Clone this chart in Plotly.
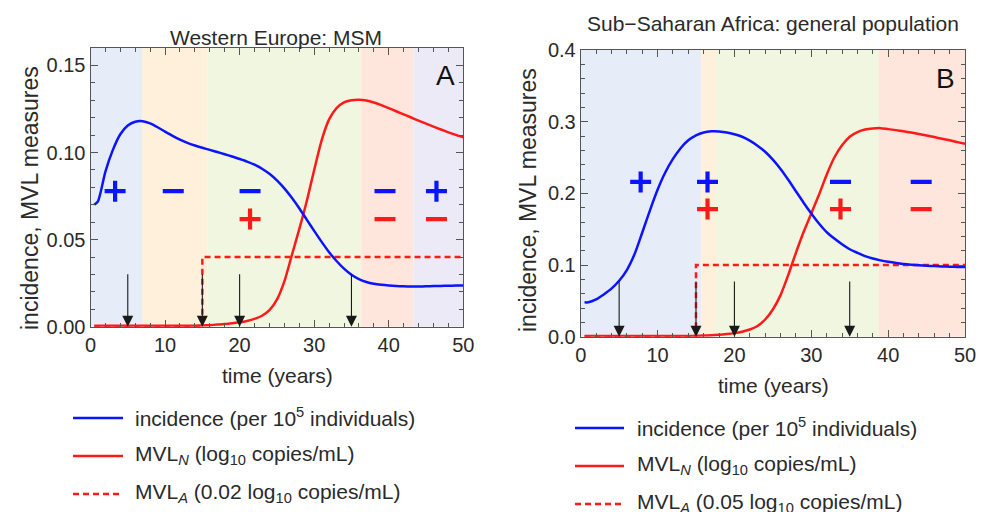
import plotly.graph_objects as go

# ---------------- data ----------------
t = [0.5, 1] + list(range(2, 51))

inc_A = [0.070, 0.072, 0.089, 0.1015, 0.1105, 0.1155, 0.1177, 0.118, 0.1167, 0.1145, 0.112,
         0.1096, 0.1074, 0.1055, 0.104, 0.1027, 0.1015, 0.1003, 0.099, 0.0977, 0.0963,
         0.0948, 0.093, 0.0907, 0.0878, 0.084, 0.0794, 0.074, 0.068, 0.0615, 0.055,
         0.0487, 0.0428, 0.0377, 0.0333, 0.0298, 0.0273, 0.0257, 0.0247, 0.0241, 0.0237,
         0.0234, 0.0232, 0.0231, 0.0231, 0.0232, 0.0233, 0.0234, 0.0235, 0.0236, 0.0237]
mvlN_A = [0.0005] * 12 + [0.0006, 0.0006, 0.0006, 0.0007, 0.0009, 0.0012, 0.0015, 0.002, 0.0025,
                          0.0033, 0.0045, 0.0063, 0.0095, 0.0155, 0.026, 0.041, 0.056, 0.072,
                          0.090, 0.107, 0.119, 0.1255, 0.1288, 0.1300, 0.1303, 0.1298, 0.1287,
                          0.1272, 0.1255, 0.1237, 0.1219, 0.1201, 0.1183, 0.1166, 0.1149, 0.1132,
                          0.1116, 0.1101, 0.1087]
mvlA_t_A = [0.5, 15, 15, 50]
mvlA_A = [0.0, 0.0, 0.04, 0.04]

inc_B = [0.048, 0.048, 0.052, 0.059, 0.067, 0.078, 0.093, 0.115, 0.145, 0.176, 0.205, 0.229,
         0.248, 0.263, 0.274, 0.281, 0.285, 0.2865, 0.2863, 0.285, 0.2825, 0.279, 0.2735,
         0.2665, 0.258, 0.247, 0.234, 0.219, 0.203, 0.187, 0.172, 0.158, 0.146, 0.137, 0.129,
         0.122, 0.117, 0.1125, 0.109, 0.1065, 0.1045, 0.103, 0.1015, 0.1005, 0.0997, 0.099,
         0.0985, 0.098, 0.0977, 0.0974, 0.0972]
mvlN_B = [0.001] * 15 + [0.0012, 0.0015, 0.002, 0.0027, 0.0037, 0.005, 0.007, 0.010, 0.015, 0.024,
                         0.038, 0.058, 0.086, 0.117, 0.146, 0.172, 0.198, 0.226, 0.250, 0.267,
                         0.279, 0.2855, 0.289, 0.2905, 0.291, 0.2896, 0.2882, 0.2866, 0.2848,
                         0.2828, 0.2807, 0.2785, 0.2762, 0.274, 0.2715, 0.269]
mvlA_t_B = [0.5, 15, 15, 50]
mvlA_B = [0.0, 0.0, 0.1, 0.1]

# phase boundaries and colours
bounds_A = [0, 6.9, 15.7, 36.3, 43.3, 50]
colors_A = ["#e6ecf8", "#fff0db", "#f0f6e0", "#ffe6dc", "#eceaf6"]
bounds_B = [0, 15.7, 17.6, 38.8, 50]
colors_B = ["#e6ecf8", "#fff0db", "#f0f6e0", "#ffe6dc"]

# sign markers (time, symbol) and row levels
signs_A_blue_t = [3.3, 11.1, 21.4, 39.5, 46.4]
signs_A_blue_s = ["+", "-", "-", "-", "+"]
signs_A_red_t = [21.4, 39.5, 46.4]
signs_A_red_s = ["+", "-", "-"]
signs_A_levels = [0.0778, 0.0618]
signs_B_blue_t = [7.8, 16.5, 33.8, 44.3]
signs_B_blue_s = ["+", "+", "-", "-"]
signs_B_red_t = [16.5, 33.8, 44.3]
signs_B_red_s = ["+", "+", "-"]
signs_B_levels = [0.216, 0.178]

arrow_t = [5, 15, 20, 35]
arrow_top_A = 0.031
arrow_top_B = 0.079

legend_A = ["incidence (per 10<sup>5</sup> individuals)",
            "MVL<sub><i>N</i></sub> (log<sub>10</sub> copies/mL)",
            "MVL<sub><i>A</i></sub> (0.02 log<sub>10</sub> copies/mL)"]
legend_B = ["incidence (per 10<sup>5</sup> individuals)",
            "MVL<sub><i>N</i></sub> (log<sub>10</sub> copies/mL)",
            "MVL<sub><i>A</i></sub> (0.05 log<sub>10</sub> copies/mL)"]

# ---------------- figure ----------------
W, H = 991, 512
FONT = "Liberation Sans, Arial, sans-serif"
BLUE = "#0a14ff"
RED = "#ff1a1a"
TXT = "#2a2a2a"
DASH = "6px,4px"


def px(x):
    return x / W


def py(y):
    return 1 - y / H


fig = go.Figure()

panels = [
    dict(xa="x", ya="y", inc=inc_A, mvlN=mvlN_A, mt=mvlA_t_A, ma=mvlA_A,
         bt=signs_A_blue_t, bs=signs_A_blue_s, rt=signs_A_red_t, rs=signs_A_red_s, lv=signs_A_levels,
         bounds=bounds_A, colors=colors_A, atop=arrow_top_A),
    dict(xa="x2", ya="y2", inc=inc_B, mvlN=mvlN_B, mt=mvlA_t_B, ma=mvlA_B,
         bt=signs_B_blue_t, bs=signs_B_blue_s, rt=signs_B_red_t, rs=signs_B_red_s, lv=signs_B_levels,
         bounds=bounds_B, colors=colors_B, atop=arrow_top_B),
]

shapes = []
annotations = []

for p in panels:
    for i, c in enumerate(p["colors"]):
        shapes.append(dict(type="rect", xref=p["xa"], yref=p["ya"] + " domain",
                           x0=p["bounds"][i], x1=p["bounds"][i + 1], y0=0, y1=1,
                           fillcolor=c, line=dict(width=0), layer="below"))
    fig.add_trace(go.Scatter(x=p["mt"], y=p["ma"], mode="lines", xaxis=p["xa"], yaxis=p["ya"],
                             line=dict(color=RED, width=2.5, dash=DASH), showlegend=False))
    fig.add_trace(go.Scatter(x=t, y=p["mvlN"], mode="lines", xaxis=p["xa"], yaxis=p["ya"],
                             line=dict(color=RED, width=2.5, shape="spline", smoothing=0.7),
                             showlegend=False))
    fig.add_trace(go.Scatter(x=t, y=p["inc"], mode="lines", xaxis=p["xa"], yaxis=p["ya"],
                             line=dict(color=BLUE, width=2.5, shape="spline", smoothing=0.7),
                             showlegend=False))
    for times, syms, lvl, col in [(p["bt"], p["bs"], p["lv"][0], BLUE), (p["rt"], p["rs"], p["lv"][1], RED)]:
        fig.add_trace(go.Scatter(
            x=times, y=[lvl] * len(times), mode="markers", xaxis=p["xa"], yaxis=p["ya"],
            marker=dict(symbol=["cross-thin" if s == "+" else "line-ew" for s in syms],
                        size=15, line=dict(color=col, width=4.2), color=col),
            showlegend=False))
    for at in arrow_t:
        annotations.append(dict(xref=p["xa"], yref=p["ya"], x=at, y=0, axref=p["xa"], ayref=p["ya"],
                                ax=at, ay=p["atop"], text="", showarrow=True, arrowhead=2,
                                arrowsize=2.0, arrowwidth=1.1, arrowcolor="#1a1a1a", standoff=0))

axis_common = dict(showline=True, mirror="allticks", linecolor="#555", linewidth=1,
                   ticks="inside", ticklen=7, tickcolor="#555", tickwidth=1,
                   showgrid=False, zeroline=False, automargin=False,
                   tickfont=dict(family=FONT, size=20, color=TXT))

fig.update_layout(
    width=W, height=H, margin=dict(l=0, r=0, t=0, b=0, pad=0, autoexpand=False),
    paper_bgcolor="white", plot_bgcolor="white",
    xaxis=dict(domain=[px(90.5), px(463.3)], range=[0, 50], anchor="y", dtick=10, tick0=0,
               minor=dict(ticks="inside", ticklen=4, dtick=2, tick0=0, tickcolor="#555"), **axis_common),
    yaxis=dict(domain=[py(326.7), py(48)], range=[0, 0.16], anchor="x", dtick=0.05, tick0=0,
               tickformat=".2f",
               minor=dict(ticks="inside", ticklen=4, dtick=0.01, tick0=0, tickcolor="#555"), **axis_common),
    xaxis2=dict(domain=[px(580.7), px(965)], range=[0, 50], anchor="y2", dtick=10, tick0=0,
                minor=dict(ticks="inside", ticklen=4, dtick=2, tick0=0, tickcolor="#555"), **axis_common),
    yaxis2=dict(domain=[py(336.7), py(50)], range=[0, 0.4], anchor="x2", dtick=0.1, tick0=0,
                tickformat=".1f",
                minor=dict(ticks="inside", ticklen=4, dtick=0.02, tick0=0, tickcolor="#555"), **axis_common),
    showlegend=False,
)


def txt(x, y, s, size=21, **kw):
    d = dict(xref="paper", yref="paper", x=px(x), y=py(y), text=s, showarrow=False,
             font=dict(family=FONT, size=size, color=TXT), xanchor="center", yanchor="middle")
    d.update(kw)
    annotations.append(d)


txt(275.5, 37, "Western Europe: MSM")
txt(773, 23, "Sub\u2212Saharan Africa: general population")
txt(277, 375, "time (years)")
txt(773, 385, "time (years)")
txt(30, 198, "incidence, MVL measures", size=23, textangle=-90)
txt(528, 200, "incidence, MVL measures", size=23, textangle=-90)
txt(445, 75, "A", font=dict(family=FONT, size=28, color="#111"))
txt(945, 78, "B", font=dict(family=FONT, size=28, color="#111"))

for (x0, x1, xt, ys, labels) in [(73, 123, 133, [418, 456, 494], legend_A),
                                  (575, 624, 635, [428, 466, 504], legend_B)]:
    styles = [(BLUE, "solid"), (RED, "solid"), (RED, DASH)]
    for (col, dash), yy, lab in zip(styles, ys, labels):
        shapes.append(dict(type="line", xref="paper", yref="paper", x0=px(x0), x1=px(x1),
                           y0=py(yy), y1=py(yy), line=dict(color=col, width=2.5, dash=dash)))
        txt(xt, yy - 1, lab, xanchor="left")

fig.update_layout(shapes=shapes, annotations=annotations)
fig.write_html("out.html", config={"displayModeBar": False},
               post_script="document.body.style.margin='0px';document.body.style.overflow='hidden';")
